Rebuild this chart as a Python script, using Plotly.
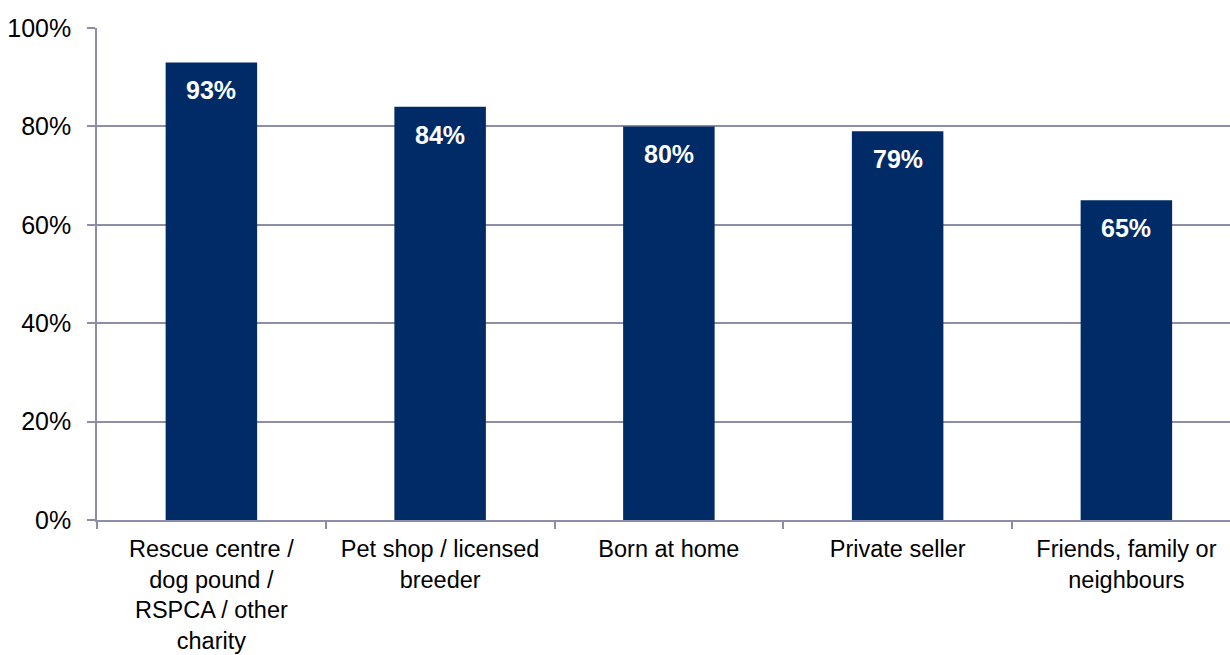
import plotly.graph_objects as go

# Where the dog was obtained, share of respondents (%)
categories = [
    "Rescue centre /<br>dog pound /<br>RSPCA / other<br>charity",
    "Pet shop / licensed<br>breeder",
    "Born at home",
    "Private seller",
    "Friends, family or<br>neighbours",
]
values = [93, 84, 80, 79, 65]
y_ticks = [0, 20, 40, 60, 80, 100]
y_tick_labels = [f"{v}%" for v in y_ticks]

BAR = "#002b66"
GRID = "#8c8da6"
FONT = "Liberation Sans, Arial, sans-serif"

fig = go.Figure(
    go.Bar(
        x=categories,
        y=values,
        marker=dict(color=BAR, line=dict(width=0)),
        width=0.4,
        hoverinfo="skip",
    )
)

# Value labels sitting inside the top of each bar
for cat, val in zip(categories, values):
    fig.add_annotation(
        x=cat, y=val, text=f"<b>{val}%</b>",
        showarrow=False, yanchor="middle", yshift=-28,
        font=dict(family=FONT, size=25, color="white"),
    )

fig.update_layout(
    width=1230, height=655,
    margin=dict(l=97, r=0, t=28, b=135),
    paper_bgcolor="white", plot_bgcolor="white",
    showlegend=False,
    font=dict(family=FONT, size=25, color="#000000"),
    xaxis=dict(
        type="category",
        range=[-0.5, 4.453],
        tickson="boundaries",
        ticks="outside", ticklen=7, tickcolor=GRID, tickwidth=1.5,
        showline=True, linecolor=GRID, linewidth=1.5,
        showgrid=False,
        tickfont=dict(family=FONT, size=23.5, color="#000000"),
        ticklabelstandoff=7,
        automargin=False,
    ),
    yaxis=dict(
        range=[0, 100],
        tickvals=y_ticks, ticktext=y_tick_labels,
        ticks="outside", ticklen=8, tickcolor=GRID, tickwidth=1.5,
        showline=True, linecolor=GRID, linewidth=1.5,
        showgrid=True, gridcolor=GRID, gridwidth=1.5,
        zeroline=False,
        tickfont=dict(family=FONT, size=25, color="#000000"),
        ticklabelstandoff=11,
        automargin=False,
    ),
)

fig.write_html("out.html")
